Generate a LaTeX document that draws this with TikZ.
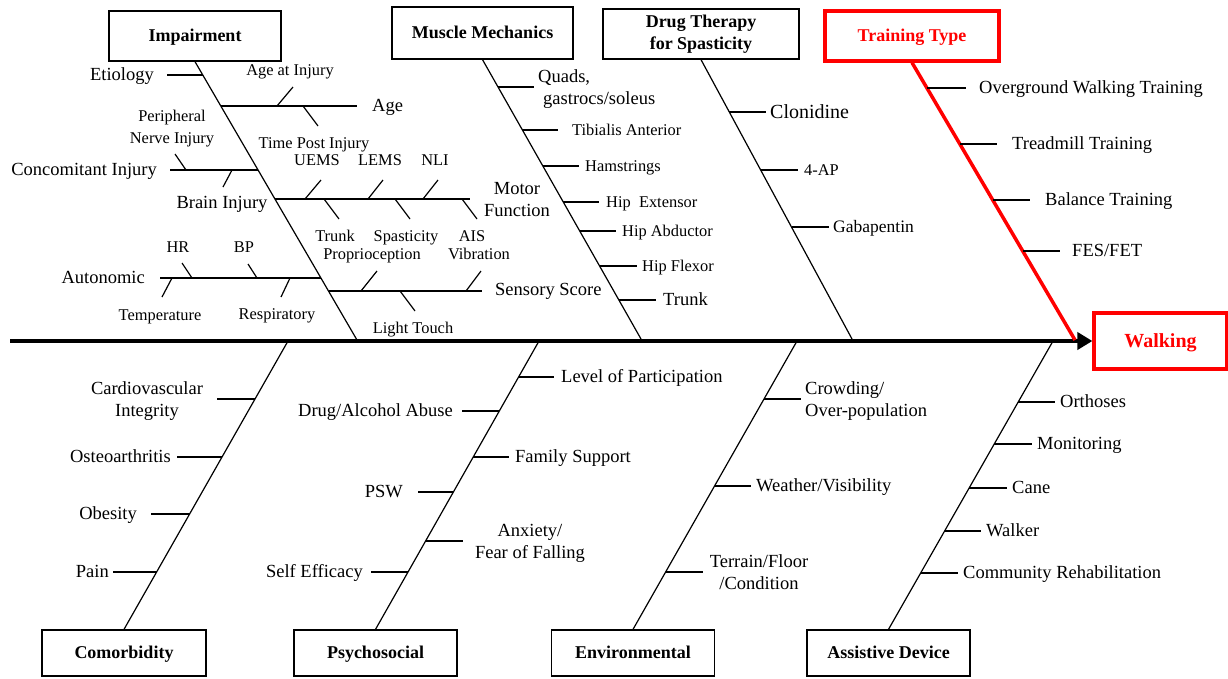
\documentclass[tikz,border=0pt]{standalone}
\usepackage{fontspec}
\setmainfont{Liberation Serif}
\usetikzlibrary{arrows.meta,calc}
\newcommand\fbrib[3]{\draw[rib] (intersection of #1S--#1E and 0,#2--1,#2) -- ++(#3,0);}
\begin{document}
\begin{tikzpicture}[x=1pt,y=-1pt,
  lbl/.style={inner sep=0pt, text height=12.9pt, text depth=1pt, font=\fontsize{18.5}{22}\selectfont},
  sml/.style={inner sep=0pt, text height=11.4pt, text depth=0.8pt, font=\fontsize{16.4}{22}\selectfont},
  big/.style={inner sep=0pt, text height=14pt, text depth=1pt, font=\fontsize{20}{22}\selectfont},
  catbase/.style={draw, line width=1.3pt, inner sep=0pt, align=center, font=\fontsize{18}{22}\selectfont\bfseries},
  cat/.style={catbase, text height=12.6pt, text depth=1pt},
  hot/.style={cat, draw=red, text=red, line width=3.2pt},
  bone/.style={line width=1.2pt},
  rib/.style={line width=1.2pt},
  spine/.style={line width=4pt, -{Triangle[length=15pt,width=17pt]}}
]
\useasboundingbox (0,0) rectangle (1228,678);

% ---------- category boxes ----------
\node[cat, minimum width=172pt, minimum height=50pt] (imp) at (195,36) {Impairment};
\node[cat, minimum width=181pt, minimum height=52pt] (mus) at (482.5,33) {Muscle Mechanics};
\node[catbase, minimum width=196pt, minimum height=50pt] (drg) at (701,34) {Drug Therapy\\for Spasticity};
\node[hot, minimum width=174pt, minimum height=50pt] (trn) at (912,36) {Training Type};
\node[cat, minimum width=164pt, minimum height=46pt] (com) at (124,653) {Comorbidity};
\node[cat, minimum width=163pt, minimum height=46pt] (psy) at (375.5,653) {Psychosocial};
\node[cat, minimum width=163pt, minimum height=46pt] (env) at (633,653) {Environmental};
\node[cat, minimum width=163pt, minimum height=46pt] (asd) at (888.5,653) {Assistive Device};
\node[hot, font=\fontsize{20}{22}\selectfont\bfseries, text height=14pt, text depth=1pt, minimum width=133pt, minimum height=56pt] (walk) at (1160.5,341) {Walking};

% ---------- spine ----------
\coordinate (spS) at (10,341);
\draw[spine] (spS) -- (walk.west);

% ---------- bones ----------
\coordinate (impS) at (imp.south); \coordinate (impE) at (357,340);
\coordinate (musS) at (mus.south); \coordinate (musE) at (641,339);
\coordinate (drgS) at (drg.south); \coordinate (drgE) at (852,339);
\coordinate (trnS) at (trn.south); \coordinate (trnE) at (1075,340);
\coordinate (comS) at (com.north); \coordinate (comE) at (288,341);
\coordinate (psyS) at (psy.north); \coordinate (psyE) at (539,341);
\coordinate (envS) at (env.north); \coordinate (envE) at (797,341);
\coordinate (asdS) at (asd.north); \coordinate (asdE) at (1053,341);
\draw[bone] (impS) -- (impE);
\draw[bone] (musS) -- (musE);
\draw[bone] (drgS) -- (drgE);
\draw[red, line width=3.5pt] (trnS) -- (trnE);
\draw[bone] (comS) -- (comE);
\draw[bone] (psyS) -- (psyE);
\draw[bone] (envS) -- (envE);
\draw[bone] (asdS) -- (asdE);

% ---------- Impairment ----------
\fbrib{imp}{75}{-36}
\fbrib{imp}{106}{136}
\fbrib{imp}{170}{-88}
\fbrib{imp}{199}{195}
\fbrib{imp}{278}{-161}
\fbrib{imp}{291}{153}
\draw[rib] (277,106) -- (293,87);
\draw[rib] (303,106) -- (318,126);
\draw[rib] (175,154) -- (186,170);
\draw[rib] (232,170) -- (223,187);
\draw[rib] (305,199) -- (321,180);
\draw[rib] (368,199) -- (383,180);
\draw[rib] (423,199) -- (438,180);
\draw[rib] (324,199) -- (339,219);
\draw[rib] (395,199) -- (410,219);
\draw[rib] (462,199) -- (477,219);
\draw[rib] (182,263) -- (192,278);
\draw[rib] (248,264) -- (257,278);
\draw[rib] (172,278) -- (162,297);
\draw[rib] (290,278) -- (281,297);
\draw[rib] (361,291) -- (377,271);
\draw[rib] (466,291) -- (481,271);
\draw[rib] (400,291) -- (415,311);

\node[lbl, anchor=east] (etio) at (154,75) {Etiology};
\node[lbl, anchor=west] (age) at (372,106) {Age};
\node[sml] (aai) at (290,70) {Age at Injury};
\node[sml] (tpi) at (314,143) {Time Post Injury};
\node[lbl, anchor=east] (conc) at (157,170) {Concomitant Injury};
\node[sml, align=center] (pni) at (172,138) {Peripheral\\Nerve Injury};
\node[lbl] (brain) at (222,203) {Brain Injury};
\node[lbl, align=center] (motor) at (517,211) {Motor\\Function};
\node[sml] (uems) at (317,160) {UEMS};
\node[sml] (lems) at (380,160) {LEMS};
\node[sml] (nli) at (435,160) {NLI};
\node[sml] (trk) at (335,236) {Trunk};
\node[sml] (prop) at (372,254) {Proprioception};
\node[sml] (spas) at (406,236) {Spasticity};
\node[sml] (ais) at (472,236) {AIS};
\node[sml] (vib) at (479,254) {Vibration};
\node[lbl, anchor=east] (auto) at (145,278) {Autonomic};
\node[sml] (hr) at (178,247) {HR};
\node[sml] (bp) at (244,247) {BP};
\node[sml] (temp) at (160,315) {Temperature};
\node[sml] (resp) at (277,314) {Respiratory};
\node[lbl, anchor=west] (sens) at (495,290) {Sensory Score};
\node[sml] (lt) at (413,328) {Light Touch};

% ---------- Muscle Mechanics ----------
\fbrib{mus}{87}{36}
\fbrib{mus}{130}{36}
\fbrib{mus}{166}{36}
\fbrib{mus}{202}{36}
\fbrib{mus}{231}{36}
\fbrib{mus}{266}{37}
\fbrib{mus}{300}{37}
\node[lbl, anchor=west, align=left] (quads) at (538,99) {Quads,\\\hspace*{5pt}gastrocs/soleus};
\node[sml, anchor=west] (tib) at (572,130) {Tibialis Anterior};
\node[sml, anchor=west] (ham) at (585,166) {Hamstrings};
\node[sml, anchor=west] (hipe) at (606,202) {Hip\ \ Extensor};
\node[sml, anchor=west] (hipa) at (622,231) {Hip Abductor};
\node[sml, anchor=west] (hipf) at (642,266) {Hip Flexor};
\node[lbl, anchor=west] (trunk) at (663,300) {Trunk};

% ---------- Drug Therapy ----------
\fbrib{drg}{112}{37}
\fbrib{drg}{170}{37}
\fbrib{drg}{227}{37}
\node[big, anchor=west] (clon) at (770,112) {Clonidine};
\node[sml, anchor=west] (ap) at (804,170) {4-AP};
\node[sml, font=\fontsize{17.5}{22}\selectfont, anchor=west] (gaba) at (833,227) {Gabapentin};

% ---------- Training Type ----------
\fbrib{trn}{88}{39}
\fbrib{trn}{144}{37}
\fbrib{trn}{200}{37}
\fbrib{trn}{251}{37}
\node[lbl, anchor=west] (ogw) at (979,88) {Overground Walking Training};
\node[lbl, anchor=west] (tmt) at (1012,144) {Treadmill Training};
\node[lbl, anchor=west] (bal) at (1045,200) {Balance Training};
\node[lbl, anchor=west] (fes) at (1072,251) {FES/FET};

% ---------- Comorbidity ----------
\fbrib{com}{399}{-38}
\fbrib{com}{457}{-45}
\fbrib{com}{514}{-39}
\fbrib{com}{572}{-44}
\node[lbl, align=center] (cvi) at (147,411) {Cardiovascular\\Integrity};
\node[lbl, anchor=east] (oa) at (171,457) {Osteoarthritis};
\node[lbl, anchor=east] (obe) at (137,514) {Obesity};
\node[lbl, anchor=east] (pain) at (109,572) {Pain};

% ---------- Psychosocial ----------
\fbrib{psy}{377}{35}
\fbrib{psy}{411}{-37}
\fbrib{psy}{457}{36}
\fbrib{psy}{492}{-35}
\fbrib{psy}{541}{37}
\fbrib{psy}{572}{-37}
\node[lbl, anchor=west] (lop) at (561,377) {Level of Participation};
\node[lbl, anchor=east] (dru) at (453,411) {Drug/Alcohol Abuse};
\node[lbl, anchor=west] (fam) at (515,457) {Family Support};
\node[lbl, anchor=east] (psw) at (403,492) {PSW};
\node[lbl, align=center] (anx) at (530,553) {Anxiety/\\Fear of Falling};
\node[lbl, anchor=east] (se) at (363,572) {Self Efficacy};

% ---------- Environmental ----------
\fbrib{env}{399}{37}
\fbrib{env}{486}{36}
\fbrib{env}{572}{37}
\node[lbl, anchor=west, align=left] (crowd) at (805,411) {Crowding/\\Over-population};
\node[lbl, anchor=west] (wea) at (756,486) {Weather/Visibility};
\node[lbl, align=center] (ter) at (759,584) {Terrain/Floor\\/Condition};

% ---------- Assistive Device ----------
\fbrib{asd}{402}{37}
\fbrib{asd}{444}{38}
\fbrib{asd}{488}{38}
\fbrib{asd}{531}{36}
\fbrib{asd}{573}{37}
\node[lbl, anchor=west] (orth) at (1060,402) {Orthoses};
\node[lbl, anchor=west] (mon) at (1037,444) {Monitoring};
\node[lbl, anchor=west] (cane) at (1012,488) {Cane};
\node[lbl, anchor=west] (walker) at (986,531) {Walker};
\node[lbl, anchor=west] (cr) at (963,573) {Community Rehabilitation};
\end{tikzpicture}
\end{document}
